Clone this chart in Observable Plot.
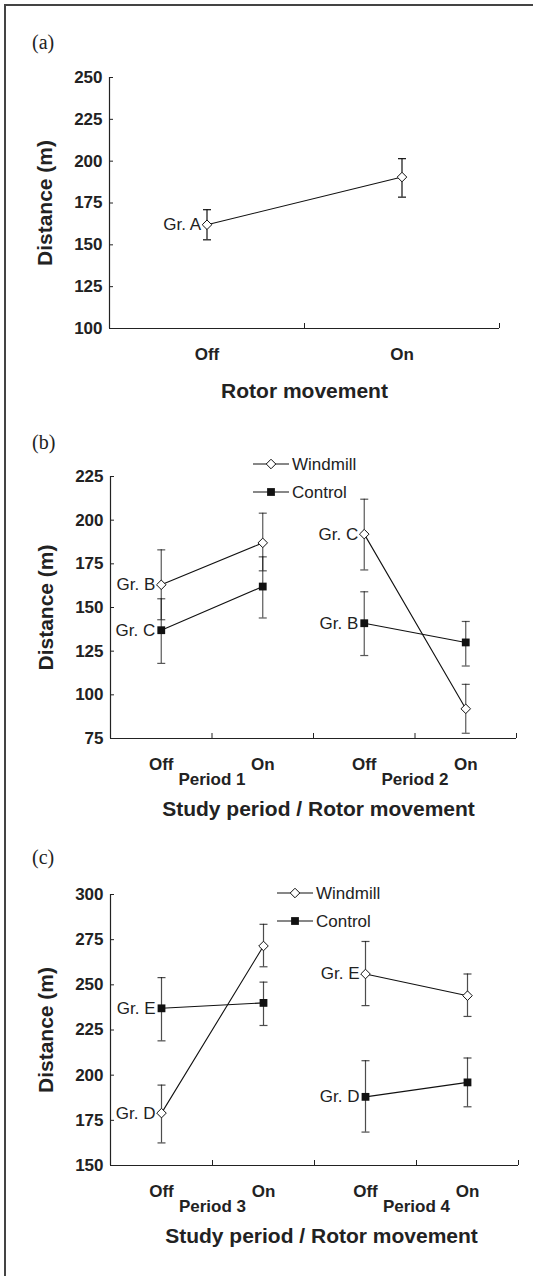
<!DOCTYPE html>
<html><head><meta charset="utf-8">
<script src="https://cdn.jsdelivr.net/npm/d3@7"></script>
<script src="https://cdn.jsdelivr.net/npm/@observablehq/plot@0.6"></script>
<style>
body{margin:0;background:#fff;}
#root{position:relative;width:533px;height:1276px;overflow:hidden;background:#fff;font-family:"Liberation Sans",Arial,sans-serif;}
.panel{position:absolute;left:0;}
#overlay{position:absolute;left:0;top:0;}
</style></head><body><div id="root"></div>
<script>
// ---------- Panel (a) ----------
const aCats = ["Off", "On"];
const aMean = [162, 190.5];
const aLo = [153, 178.5];
const aHi = [171, 201.5];
const aLabels = ["Gr. A", null];
const aTicks = [100, 125, 150, 175, 200, 225, 250];

// ---------- Panel (b) ----------
const bCats = ["Off", "On", "Off", "On"];
const bPeriods = ["Period 1", "Period 2"];
const bWindMean = [163, 187, 192, 92];
const bWindLo = [143, 171, 171.5, 78];
const bWindHi = [183, 204, 212, 106];
const bCtrlMean = [137, 162, 141, 130];
const bCtrlLo = [118, 144, 122.5, 116.5];
const bCtrlHi = [155, 179, 159, 142];
const bWindLabels = ["Gr. B", null, "Gr. C", null];
const bCtrlLabels = ["Gr. C", null, "Gr. B", null];
const bTicks = [75, 100, 125, 150, 175, 200, 225];

// ---------- Panel (c) ----------
const cCats = ["Off", "On", "Off", "On"];
const cPeriods = ["Period 3", "Period 4"];
const cWindMean = [179, 271.5, 256, 244];
const cWindLo = [162.5, 260, 238.5, 232.5];
const cWindHi = [194.5, 283.5, 274, 256];
const cCtrlMean = [237, 240, 188, 196];
const cCtrlLo = [219, 227.5, 168.5, 182.5];
const cCtrlHi = [254, 251.5, 208, 209.5];
const cWindLabels = ["Gr. D", null, "Gr. E", null];
const cCtrlLabels = ["Gr. E", null, "Gr. D", null];
const cTicks = [150, 175, 200, 225, 250, 275, 300];

const legendNames = ["Windmill", "Control"];
const yTitle = "Distance (m)";
const xTitleA = "Rotor movement";
const xTitleBC = "Study period / Rotor movement";

const FONT = '"Liberation Sans", Arial, sans-serif';
const capSymbol = {draw(ctx, size) { const r = Math.sqrt(size / Math.PI); ctx.moveTo(-r, 0); ctx.lineTo(r, 0); }};

function rows(mean, lo, hi, labels) {
  return mean.map((m, i) => ({x: i + 0.5, period: Math.floor(i / 2), mean: m, lo: lo[i], hi: hi[i], label: labels[i]}));
}

function panel(cfg) {
  const n = cfg.cats.length;
  const marks = [];
  const err = cfg.errColor;
  for (const s of cfg.series) {
    marks.push(
      Plot.ruleX(s.data, {x: "x", y1: "lo", y2: "hi", stroke: err, strokeWidth: 1.2, strokeOpacity: cfg.errOpacity}),
      Plot.dot(s.data, {x: "x", y: "lo", symbol: capSymbol, r: 4, stroke: err, strokeWidth: 1.2, strokeOpacity: cfg.errOpacity}),
      Plot.dot(s.data, {x: "x", y: "hi", symbol: capSymbol, r: 4, stroke: err, strokeWidth: 1.2, strokeOpacity: cfg.errOpacity})
    );
  }
  for (const s of cfg.series) {
    marks.push(Plot.line(s.data, {x: "x", y: "mean", z: "period", stroke: "#111", strokeWidth: 1.1}));
  }
  for (const s of cfg.series) {
    if (s.kind === "wind") marks.push(Plot.dot(s.data, {x: "x", y: "mean", symbol: "diamond2", r: 4.3, fill: "#fff", stroke: "#111", strokeWidth: 1}));
    else marks.push(Plot.dot(s.data, {x: "x", y: "mean", symbol: "square", r: 4.4, fill: "#111", stroke: "none"}));
    marks.push(Plot.text(s.data.filter(d => d.label), {x: "x", y: "mean", text: "label", textAnchor: "end", lineAnchor: "middle", dx: -6, fontSize: 17, fill: "#222", fontFamily: FONT}));
  }
  marks.push(
    Plot.ruleX([0], {stroke: "#222", strokeWidth: 1.2}),
    Plot.ruleY([cfg.ticks[0]], {stroke: "#222", strokeWidth: 1.2}),
    Plot.axisY({ticks: cfg.ticks, tickSize: -4, tickFormat: () => "", label: null, stroke: "#222"}),
    Plot.axisY({ticks: cfg.ticks, tickSize: 0, tickPadding: 7, label: null, fontSize: 17, fontWeight: "bold", fill: "#222", fontFamily: FONT}),
    Plot.axisX({ticks: d3.range(n + 1), tickSize: -5, tickFormat: () => "", label: null, stroke: "#222"}),
    Plot.axisX({ticks: d3.range(n).map(i => i + 0.5), tickSize: 0, tickPadding: 19, tickFormat: v => cfg.cats[Math.floor(v)], label: null, fontSize: 17, fontWeight: "bold", fill: "#222", fontFamily: FONT}),
    Plot.text([yTitle], {frameAnchor: "left", rotate: -90, dx: -64, textAnchor: "middle", lineAnchor: "middle", fontSize: 21, fontWeight: "bold", fill: "#222", fontFamily: FONT}),
    Plot.text([cfg.xTitle], {frameAnchor: "bottom", dy: cfg.titleDy, dx: cfg.titleDx, textAnchor: "middle", lineAnchor: "middle", fontSize: 21, fontWeight: "bold", fill: "#222", fontFamily: FONT})
  );
  if (cfg.periods) {
    marks.push(Plot.axisX({ticks: cfg.periods.map((p, i) => 2 * i + 1), tickSize: 0, tickPadding: 34, tickFormat: v => cfg.periods[(v - 1) / 2], label: null, fontSize: 17, fontWeight: "bold", fill: "#222", fontFamily: FONT}));
  }
  const p = Plot.plot({
    width: 533, height: cfg.height,
    marginLeft: cfg.left, marginRight: 533 - cfg.right, marginTop: cfg.marginTop, marginBottom: cfg.marginBottom,
    x: {type: "linear", domain: [0, n]},
    y: {domain: [cfg.ticks[0], cfg.ticks[cfg.ticks.length - 1]]},
    style: {fontFamily: FONT, background: "transparent", overflow: "visible"},
    marks
  });
  p.classList.add("panel");
  p.style.top = cfg.top + "px";
  return p;
}

const root = document.getElementById("root");

root.appendChild(panel({
  cats: aCats, ticks: aTicks, xTitle: xTitleA, titleDy: 63, titleDx: 0,
  top: 60, height: 350, marginTop: 17, marginBottom: 82, left: 109, right: 499,
  errColor: "#111", errOpacity: 1,
  series: [{kind: "wind", data: rows(aMean, aLo, aHi, aLabels)}]
}));
root.appendChild(panel({
  cats: bCats, periods: bPeriods, ticks: bTicks, xTitle: xTitleBC, titleDy: 71, titleDx: 5,
  top: 450, height: 370, marginTop: 26, marginBottom: 82, left: 110, right: 516,
  errColor: "#111", errOpacity: 0.7,
  series: [
    {kind: "wind", data: rows(bWindMean, bWindLo, bWindHi, bWindLabels)},
    {kind: "ctrl", data: rows(bCtrlMean, bCtrlLo, bCtrlHi, bCtrlLabels)}
  ]
}));
root.appendChild(panel({
  cats: cCats, periods: cPeriods, ticks: cTicks, xTitle: xTitleBC, titleDy: 71, titleDx: 7,
  top: 870, height: 385, marginTop: 24, marginBottom: 90, left: 110, right: 518,
  errColor: "#111", errOpacity: 0.75,
  series: [
    {kind: "wind", data: rows(cWindMean, cWindLo, cWindHi, cWindLabels)},
    {kind: "ctrl", data: rows(cCtrlMean, cCtrlLo, cCtrlHi, cCtrlLabels)}
  ]
}));

const ov = d3.select(root).append("svg").attr("id", "overlay").attr("width", 533).attr("height", 1276);
ov.append("line").attr("x1", 4).attr("x2", 533).attr("y1", 5).attr("y2", 5).attr("stroke", "#444").attr("stroke-width", 2);
ov.append("line").attr("x1", 5).attr("x2", 5).attr("y1", 4).attr("y2", 1276).attr("stroke", "#444").attr("stroke-width", 2);
const letters = [["(a)", 49], ["(b)", 449], ["(c)", 864]];
for (const [t, y] of letters) {
  ov.append("text").attr("x", 32).attr("y", y).text(t).attr("font-family", '"Liberation Serif", "Times New Roman", serif').attr("font-size", 20).attr("fill", "#222");
}
function legend(x0, y0) {
  legendNames.forEach((name, i) => {
    const y = y0 + i * 28;
    const g = ov.append("g");
    g.append("line").attr("x1", x0).attr("x2", x0 + 36).attr("y1", y).attr("y2", y).attr("stroke", "#111").attr("stroke-width", 1.1);
    if (i === 0) g.append("path").attr("d", d3.symbol(d3.symbolDiamond2, 4.3 * 4.3 * Math.PI)()).attr("transform", `translate(${x0 + 18},${y})`).attr("fill", "#fff").attr("stroke", "#111");
    else g.append("path").attr("d", d3.symbol(d3.symbolSquare, 4.4 * 4.4 * Math.PI)()).attr("transform", `translate(${x0 + 18},${y})`).attr("fill", "#111");
    g.append("text").attr("x", x0 + 39).attr("y", y).attr("dy", "0.35em").text(name).attr("font-family", FONT).attr("font-size", 17).attr("fill", "#222");
  });
}
legend(253, 464);
legend(277, 893);
</script></body></html>
